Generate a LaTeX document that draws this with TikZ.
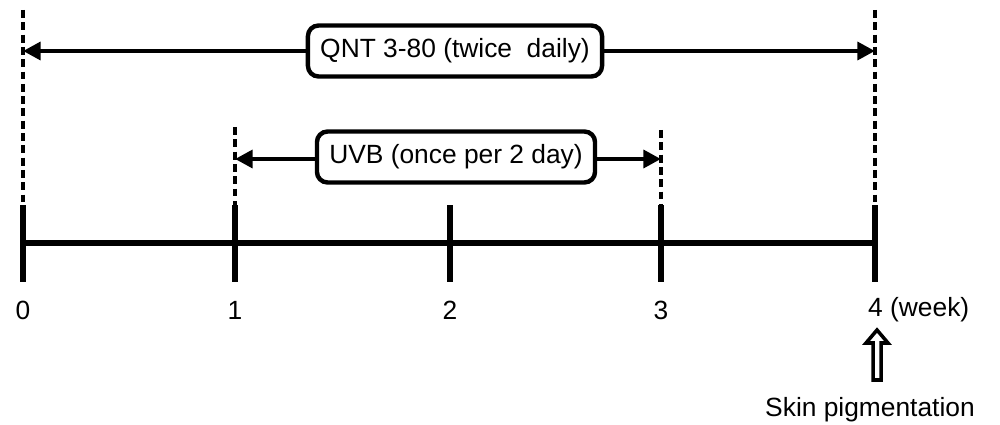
\documentclass[tikz,border=0pt]{standalone}
\usepackage{fontspec}
\setmainfont{Liberation Sans}
\usetikzlibrary{arrows.meta}
\begin{document}
\begin{tikzpicture}[x=0.2mm,y=-0.2mm,
  axisline/.style={line width=3.4pt},
  tick/.style={line width=3.4pt},
  guide/.style={line width=2.2pt,dash pattern=on 4.5pt off 2.5pt},
  span/.style={line width=2.6pt,-{Triangle[length=10pt,width=10pt]}},
  label/.style={font=\fontsize{15}{18}\selectfont},
  period/.style={draw,line width=2.5pt,rounded corners=6pt,fill=white,
    font=\fontsize{15}{18}\selectfont,inner xsep=7pt,minimum height=29pt},
]
\useasboundingbox (0,0) rectangle (1000,425);

% timeline ticks
\foreach \i/\x in {0/23,1/235,2/450,3/661,4/875}{
  \coordinate (top\i) at (\x,205);
  \coordinate (bot\i) at (\x,282);
}
\draw[axisline] (23,243) coordinate (a0) -- (875,243) coordinate (a4);
\foreach \i in {0,...,4} \draw[tick] (top\i) -- (bot\i);

% guide lines
\coordinate (g0) at (23,10);
\coordinate (g4) at (875,10);
\coordinate (g1) at (235,127);
\coordinate (g3) at (661,130);
\draw[guide] (g0) -- (top0);
\draw[guide] (g4) -- (top4);
\draw[guide] (g1) -- (top1);
\draw[guide] (g3) -- (top3);

% treatment periods
\node[period] (qnt) at (455,51) {QNT 3-80 (twice\ \ daily)};
\node[period] (uvb) at (456,157) {UVB (once per 2 day)};
\coordinate (q0) at (23,51);
\coordinate (q4) at (875,51);
\coordinate (u1) at (235,159);
\coordinate (u3) at (661,159);
\draw[span] (qnt.west |- q0) -- (q0);
\draw[span] (qnt.east |- q4) -- (q4);
\draw[span] (uvb.west |- u1) -- (u1);
\draw[span] (uvb.east |- u3) -- (u3);

% week labels
\node[label] (w0) at (23,310) {0};
\node[label] (w1) at (235,310) {1};
\node[label] (w2) at (450,310) {2};
\node[label] (w3) at (661,310) {3};
\node[label,anchor=west] (w4) at (862,310) {4 (week)};

% hollow arrow and endpoint label
\draw[line width=2pt,fill=white,line join=miter]
  (877,330) -- (888,343) -- (881,343) -- (881,380) -- (873,380)
  -- (873,343) -- (866,343) -- cycle;
\node[label] (skin) at (870,410) {Skin pigmentation};
\end{tikzpicture}
\end{document}
